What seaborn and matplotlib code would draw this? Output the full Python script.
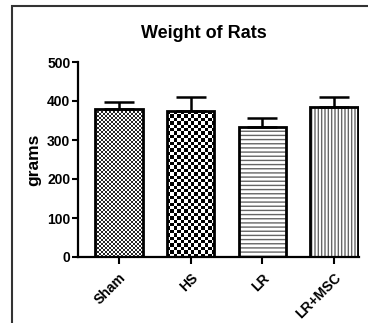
import numpy as np
import matplotlib
matplotlib.use("Agg")
import matplotlib.pyplot as plt
from matplotlib.patches import Rectangle
import seaborn as sns

categories = ["Sham", "HS", "LR", "LR+MSC"]
means = [379, 374, 333, 385]
errors = [18, 36, 24, 26]
yticks = [0, 100, 200, 300, 400, 500]
title = "Weight of Rats"
ylabel = "grams"

sns.set_style("ticks")
plt.rcParams["font.family"] = ["Liberation Sans", "DejaVu Sans"]
plt.rcParams["font.weight"] = "bold"
plt.rcParams["hatch.linewidth"] = 1.0
plt.rcParams["text.color"] = "black"
plt.rcParams["xtick.color"] = "black"
plt.rcParams["ytick.color"] = "black"
plt.rcParams["axes.labelcolor"] = "black"

fig = plt.figure(figsize=(3.68, 3.23), dpi=100)
ax = fig.add_axes([78/368, 1-257/323, (359-78)/368, (257-62)/323])

# base (hatched) layer
sns.barplot(x=categories, y=means, color="white", width=0.66, edgecolor="#666666",
            linewidth=0, errorbar=None, ax=ax, zorder=2)
base = list(ax.patches)
base[2].set_hatch("----")
base[3].set_hatch("|||||")

ax.set_xlim(-0.57, 3.35)
ax.set_ylim(0, 500)

# checkerboards for first two bars
for p, cell, dark in [(base[0], 2.0, 0.15), (base[1], 3.4, 0.0)]:
    x0, y0, w, h = p.get_x(), p.get_y(), p.get_width(), p.get_height()
    (px0, py0) = ax.transData.transform((x0, y0))
    (px1, py1) = ax.transData.transform((x0 + w, y0 + h))
    nx = max(1, int(round((px1 - px0) / cell)))
    ny = max(1, int(round((py1 - py0) / cell)))
    arr = (np.add.outer(np.arange(ny), np.arange(nx)) % 2).astype(float)
    arr = np.where(arr > 0.5, 1.0, dark)
    im = ax.imshow(arr, cmap="gray", vmin=0, vmax=1, extent=(x0, x0 + w, y0, y0 + h),
                   interpolation="nearest", aspect="auto", zorder=2.5)
    im.set_clip_path(p)

# error bars (upper only)
ax.errorbar(x=np.arange(len(categories)), y=means,
            yerr=[np.zeros(len(errors)), errors], fmt="none", ecolor="black",
            elinewidth=1.8, capsize=11, capthick=1.8, zorder=2.8)

# outlines
sns.barplot(x=categories, y=means, color="black", width=0.66, fill=False,
            linewidth=2.0, errorbar=None, ax=ax, zorder=3)

ax.set_xlim(-0.57, 3.35)
ax.set_ylim(0, 500)
ax.set_yticks(yticks)
ax.set_yticklabels([str(t) for t in yticks], fontsize=10, fontweight="bold")
ax.set_xticks(range(len(categories)))
ax.set_xticklabels(categories, rotation=45, ha="right", rotation_mode="anchor",
                   fontsize=10, fontweight="bold")
ax.tick_params(axis="y", width=1.5, length=4, pad=1.5, color="black")
ax.tick_params(axis="x", width=1.5, length=5, pad=5, color="black")
sns.despine(ax=ax)
for s in ["left", "bottom"]:
    ax.spines[s].set_linewidth(1.6)
    ax.spines[s].set_color("black")
ax.set_ylabel(ylabel, fontsize=12.5, fontweight="bold", labelpad=4)
ax.set_xlabel("")

fig.text(204/368, 1-33/323, title, ha="center", va="center", fontsize=13, fontweight="bold")

fig.add_artist(Rectangle((12/368, -0.2), 1.0, 1.2 - 6/323, transform=fig.transFigure,
                         fill=False, edgecolor="#333333", linewidth=1.5))

fig.savefig("out.png", dpi=100)
